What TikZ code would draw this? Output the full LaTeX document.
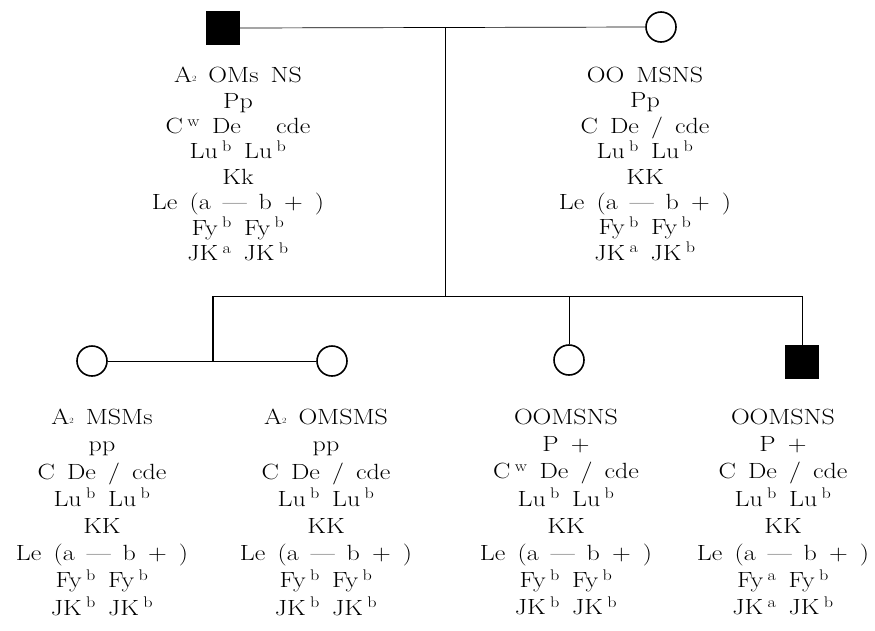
\documentclass[tikz,border=0pt]{standalone}
\usepackage{fontspec}
\usepackage{tikz}
\usetikzlibrary{positioning}

\newfontfamily\genoface{lmroman17-regular}[Extension=.otf, FakeStretch=1.18]
\newcommand{\sy}[1]{\hspace{0.2em}\textsuperscript{#1}}
\newcommand{\Atwo}{A{\footnotesize\raisebox{0.3ex}{2}}}
\newcommand{\genofont}[1]{\genoface\fontsize{22}{#1}\selectfont\spaceskip=0.55em plus 0.1em\relax}

\begin{document}
\begin{tikzpicture}[
      x=1pt, y=-1pt,
      male/.style={draw, fill=black, minimum size=33pt, inner sep=0pt},
      female/.style={draw, circle, line width=1.6pt, minimum size=30pt, inner sep=0pt},
      geno/.style={align=center, anchor=north, inner sep=0pt, font=\genofont{25.4}},
      genob/.style={geno, font=\genofont{27.2}},
      ln/.style={line width=0.7pt},
      lnb/.style={line width=1.5pt},
    ]
    \useasboundingbox (0,0) rectangle (875,630);

    % ---- parents (y = 27) ----
    \node[male] (pf) at (223,28) {};
    \node[female] (pm) at (661,27) {};
    \node[geno] (tf) at (238,67) {\Atwo{} OMs NS\\Pp\\C\sy{w} De\hspace{1.6em}cde\\Lu\sy{b} Lu\sy{b}\\Kk\\Le (a — b + )\\Fy\sy{b} Fy\sy{b}\\JK\sy{a} JK\sy{b}};
    \node[geno] (tm) at (645,67) {OO MSNS\\Pp\\C De / cde\\Lu\sy{b} Lu\sy{b}\\KK\\Le (a — b + )\\Fy\sy{b} Fy\sy{b}\\JK\sy{a} JK\sy{b}};

    % ---- children (y = 361) ----
    \node[female] (c1) at (92,361) {};
    \node[female] (c2) at (332,361) {};
    \node[female] (c3) at (569,360) {};
    \node[male] (c4) at (802,362) {};
    \node[genob] (t1) at (102,409) {\Atwo{} MSMs\\pp\\C De / cde\\Lu\sy{b} Lu\sy{b}\\KK\\Le (a — b + )\\Fy\sy{b} Fy\sy{b}\\JK\sy{b} JK\sy{b}};
    \node[genob] (t2) at (326,409) {\Atwo{} OMSMS\\pp\\C De / cde\\Lu\sy{b} Lu\sy{b}\\KK\\Le (a — b + )\\Fy\sy{b} Fy\sy{b}\\JK\sy{b} JK\sy{b}};
    \node[genob] (t3) at (566,409) {OOMSNS\\P +\\C\sy{w} De / cde\\Lu\sy{b} Lu\sy{b}\\KK\\Le (a — b + )\\Fy\sy{b} Fy\sy{b}\\JK\sy{b} JK\sy{b}};
    \node[genob] (t4) at (783,409) {OOMSNS\\P +\\C De / cde\\Lu\sy{b} Lu\sy{b}\\KK\\Le (a — b + )\\Fy\sy{a} Fy\sy{b}\\JK\sy{a} JK\sy{b}};

    % ---- lines of descent ----
    \coordinate (mid) at (445,27);
    \coordinate (sibl) at (213,296);
    \coordinate (sibr) at (c4.north |- sibl);
    \coordinate (pair) at (213,361);
    \draw[ln] (pf.east) -- (pm.west);
    \draw[ln] (mid) -- (mid |- sibl);
    \draw[ln] (sibl) -- (sibr);
    \draw[lnb] (sibl) -- (pair);
    \draw[ln] (c1.east) -- (c2.west);
    \draw[ln] (c3.north |- sibl) -- (c3.north);
    \draw[ln] (sibr) -- (c4.north);
  \end{tikzpicture}
\end{document}
